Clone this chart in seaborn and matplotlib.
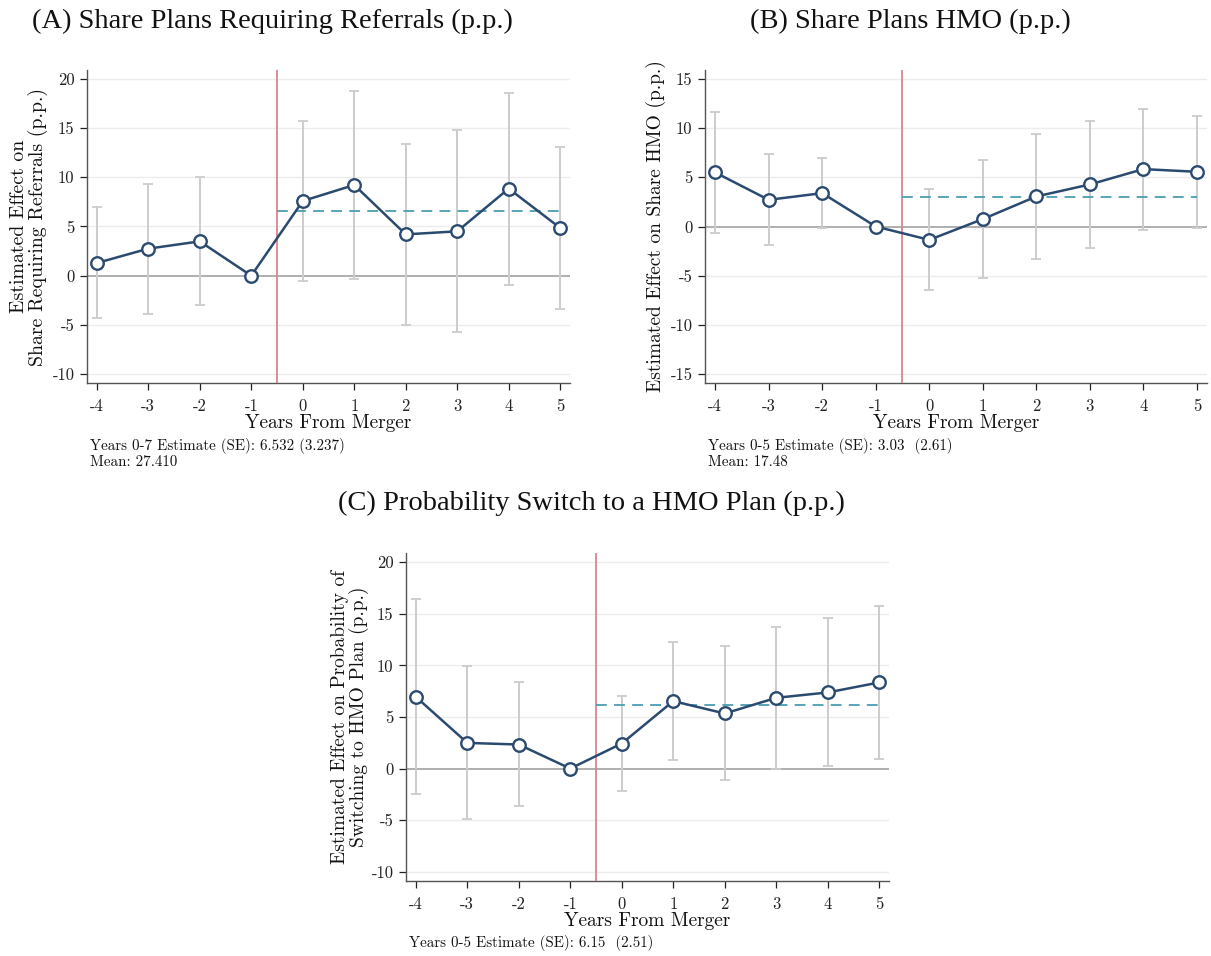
import numpy as np
import pandas as pd
import seaborn as sns
import matplotlib
matplotlib.use("Agg")
import matplotlib.pyplot as plt

years = [-4, -3, -2, -1, 0, 1, 2, 3, 4, 5]

# Panel A
a_est = [1.29, 2.75, 3.49, 0.0, 7.59, 9.22, 4.20, 4.51, 8.85, 4.85]
a_hi = [6.95, 9.36, 10.0, np.nan, 15.76, 18.81, 13.42, 14.85, 18.61, 13.12]
a_lo = [-4.34, -3.86, -3.02, np.nan, -0.54, -0.34, -5.05, -5.76, -0.95, -3.39]
a_pooled = 6.532

# Panel B
b_est = [5.49, 2.71, 3.39, 0.0, -1.36, 0.75, 3.05, 4.27, 5.83, 5.56]
b_hi = [11.66, 7.32, 6.95, np.nan, 3.83, 6.78, 9.36, 10.68, 11.97, 11.25]
b_lo = [-0.61, -1.93, -0.14, np.nan, -6.47, -5.25, -3.29, -2.14, -0.31, -0.14]
b_pooled = 3.03

# Panel C
c_est = [6.96, 2.49, 2.33, 0.0, 2.43, 6.54, 5.34, 6.86, 7.38, 8.35]
c_hi = [16.41, 9.90, 8.35, np.nan, 7.02, 12.23, 11.88, 13.69, 14.56, 15.79]
c_lo = [-2.49, -4.92, -3.66, np.nan, -2.14, 0.81, -1.13, 0.0, 0.23, 0.91]
c_pooled = 6.15

titles = ["(A) Share Plans Requiring Referrals (p.p.)",
          "(B) Share Plans HMO (p.p.)",
          "(C) Probability Switch to a HMO Plan (p.p.)"]
ylabels = ["Estimated Effect on\nShare Requiring Referrals (p.p.)",
           "Estimated Effect on Share HMO (p.p.)",
           "Estimated Effect on Probability of\nSwitching to HMO Plan (p.p.)"]
notes = ["Years 0-7 Estimate (SE): 6.532 (3.237)\nMean: 27.410",
         "Years 0-5 Estimate (SE): 3.03  (2.61)\nMean: 17.48",
         "Years 0-5 Estimate (SE): 6.15  (2.51)"]
a_yticks = [-10, -5, 0, 5, 10, 15, 20]
b_yticks = [-15, -10, -5, 0, 5, 10, 15]
c_yticks = [-10, -5, 0, 5, 10, 15, 20]

sns.set_theme(style="white")
plt.rcParams["axes.unicode_minus"] = False
plt.rcParams["font.family"] = ["cmr10", "DejaVu Serif"]
plt.rcParams["mathtext.fontset"] = "cm"

W, H = 1211, 956
fig = plt.figure(figsize=(W / 100, H / 100), dpi=100)
fig.patch.set_facecolor("white")

LINE = "#2b4a6f"
GRAY = "#cccccc"
RED = "#d98592"
TEAL = "#4b9db3"

def px_axes(left, right, top, bottom):
    return fig.add_axes([left / W, 1 - bottom / H, (right - left) / W, (bottom - top) / H])

panels = [
    dict(box=(87, 570, 70, 383), est=a_est, hi=a_hi, lo=a_lo, pooled=a_pooled,
         yticks=a_yticks, ylim=(-10.9, 20.9), title_xy=(272, 21), ylab_x=29,
         ylab_fs=14.3, note_xy=(90, 438)),
    dict(box=(705, 1207, 70, 383), est=b_est, hi=b_hi, lo=b_lo, pooled=b_pooled,
         yticks=b_yticks, ylim=(-15.9, 15.9), title_xy=(910, 21), ylab_x=656,
         ylab_fs=14, note_xy=(708, 438)),
    dict(box=(406, 889, 553, 881), est=c_est, hi=c_hi, lo=c_lo, pooled=c_pooled,
         yticks=c_yticks, ylim=(-10.9, 20.9), title_xy=(591, 503), ylab_x=350,
         ylab_fs=14, note_xy=(409, 935)),
]

for i, p in enumerate(panels):
    l, r, t, b = p["box"]
    ax = px_axes(l, r, t, b)
    df = pd.DataFrame({"year": years, "est": p["est"], "hi": p["hi"], "lo": p["lo"]})

    for yt in p["yticks"]:
        if yt != 0:
            ax.axhline(yt, color="#ececec", lw=1.0, zorder=0)
    ax.axhline(0, color="#9a9a9a", lw=1.1, zorder=1)

    ci = df.dropna()
    ax.errorbar(ci["year"], (ci["hi"] + ci["lo"]) / 2,
                yerr=(ci["hi"] - ci["lo"]) / 2, fmt="none",
                ecolor=GRAY, elinewidth=1.4, capsize=3.3, capthick=1.3, zorder=2)

    ax.axvline(-0.5, color=RED, lw=1.3, zorder=3)
    ax.hlines(p["pooled"], -0.5, 5, colors=TEAL, linestyles=(0, (6, 4)), lw=1.3, zorder=3)

    sns.lineplot(data=df, x="year", y="est", ax=ax, color=LINE, lw=1.8,
                 marker="o", markersize=9, markerfacecolor="white",
                 markeredgecolor=LINE, markeredgewidth=1.7, zorder=5)

    ax.set_xlim(-4.19, 5.19)
    ax.set_ylim(*p["ylim"])
    ax.set_xticks(years)
    ax.set_xticklabels([str(y) for y in years])
    ax.set_yticks(p["yticks"])
    ax.set_yticklabels([str(y) for y in p["yticks"]])
    ax.tick_params(axis="both", labelsize=12, colors="#222222", length=5,
                   width=0.9, direction="out", left=True, bottom=True, pad=4)
    ax.tick_params(axis="x", pad=6)
    for s in ["top", "right"]:
        ax.spines[s].set_visible(False)
    for s in ["left", "bottom"]:
        ax.spines[s].set_color("#555555")
        ax.spines[s].set_linewidth(1.0)

    ax.set_xlabel("Years From Merger", fontsize=14, labelpad=0, color="#111111")
    ax.set_ylabel("")
    fig.text(p["ylab_x"] / W, 1 - ((t + b) / 2) / H, ylabels[i], rotation=90,
             ha="center", va="center", fontsize=p["ylab_fs"], color="#111111",
             linespacing=1.0)

    fig.text(p["title_xy"][0] / W, 1 - p["title_xy"][1] / H, titles[i],
             ha="center", va="center", fontsize=20.5, family="Liberation Serif",
             color="#111111")
    fig.text(p["note_xy"][0] / W, 1 - p["note_xy"][1] / H, notes[i],
             ha="left", va="top", fontsize=10.8, color="#111111", linespacing=1.1)

fig.savefig("out.png", dpi=100, facecolor="white")
